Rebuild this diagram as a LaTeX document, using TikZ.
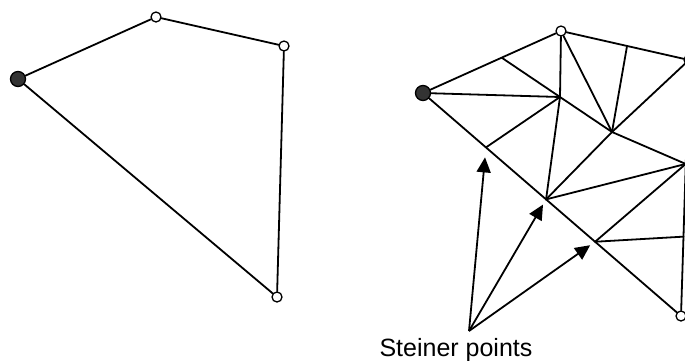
\documentclass[tikz,border=0pt]{standalone}
\usepackage{fontspec}
\setmainfont{Liberation Sans}
\usetikzlibrary{arrows.meta, calc}
\tikzset{
    edge/.style={line width=1.8pt, line cap=round},
    pointer/.style={-{Triangle[length=15pt, width=14pt]}, line width=1.8pt},
    vertex/.style={circle, draw, fill=white, line width=1.3pt, minimum size=10pt, inner sep=0pt},
    startvertex/.style={circle, draw, fill=black!80, line width=1.3pt, minimum size=15pt, inner sep=0pt},
    label/.style={font=\fontsize{25}{30}\selectfont, inner sep=0pt}
}
\begin{document}
\begin{tikzpicture}[x=1pt, y=-1pt]
\useasboundingbox (0,0) rectangle (685,360);

% Polygon
\node[startvertex] (p1) at (18,79) {};
\node[vertex] (p2) at (156,17) {};
\node[vertex] (p3) at (284,46) {};
\node[vertex] (p4) at (277,297) {};
\draw[edge] (p1) -- (p2) -- (p3) -- (p4) -- (p1);

% Triangulated polygon
\node[startvertex] (q1) at (423,93) {};
\node[vertex] (q2) at (561,31) {};
\node[vertex] (q3) at (689,60) {};
\node[vertex] (q4) at (681,316) {};
\coordinate (e1) at ($(q1)!0.57!(q2)$);
\coordinate (e2) at ($(q2)!0.516!(q3)$);
\coordinate (e3) at ($(q3)!0.406!(q4)$);
\coordinate (e4) at ($(q3)!0.69!(q4)$);
\coordinate (s1) at ($(q1)!0.244!(q4)$);
\coordinate (s2) at ($(q1)!0.477!(q4)$);
\coordinate (s3) at ($(q1)!0.667!(q4)$);
\coordinate (a) at (560,97);
\coordinate (b) at (612,132);
\draw[edge] (q1) -- (q2) -- (q3) -- (q4) -- (q1);
\draw[edge] (e1) -- (a);
\draw[edge] (q1) -- (a);
\draw[edge] (q2) -- (a);
\draw[edge] (q2) -- (b);
\draw[edge] (a) -- (b);
\draw[edge] (e2) -- (b);
\draw[edge] (b) -- (q3);
\draw[edge] (b) -- (e3);
\draw[edge] (a) -- (s1);
\draw[edge] (a) -- (s2);
\draw[edge] (b) -- (s2);
\draw[edge] (s2) -- (e3);
\draw[edge] (s3) -- (e3);
\draw[edge] (s3) -- (e4);

% Steiner points
\node[label, anchor=base] (steiner) at (456,356) {Steiner points};
\coordinate (root) at (469,331);
\draw[pointer, shorten >=10pt] (root) -- (s1);
\draw[pointer, shorten >=6pt] (root) -- (s2);
\draw[pointer, shorten >=6pt] (root) -- (s3);
\end{tikzpicture}
\end{document}
